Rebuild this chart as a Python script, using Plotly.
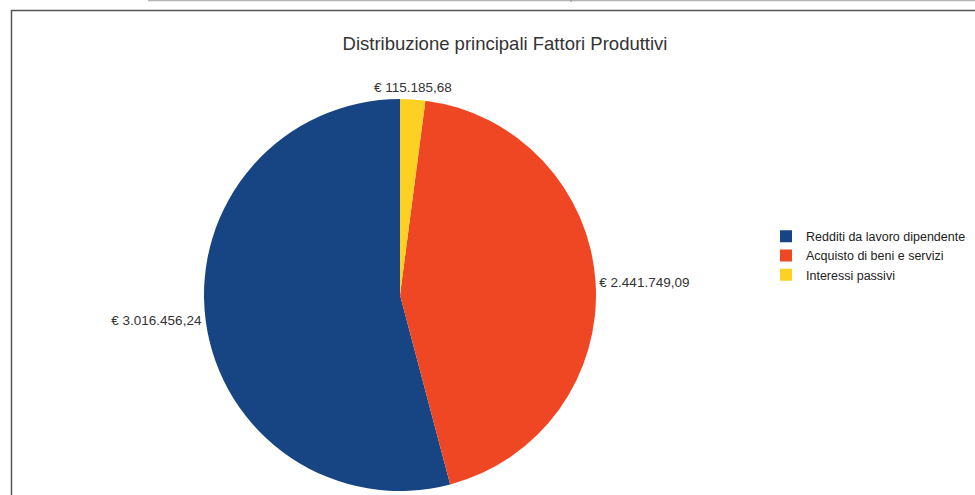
import math
import plotly.graph_objects as go

# Data
categories = ["Redditi da lavoro dipendente", "Acquisto di beni e servizi", "Interessi passivi"]
values = [3016456.24, 2441749.09, 115185.68]
colors = ["#174583", "#ef4724", "#fdd124"]
title_text = "Distribuzione principali Fattori Produttivi"

W, H = 975, 495
cx, cy, r = 400, 295, 196  # pixel geometry of the pie (from top-left)

FONT = "Liberation Sans, Arial, sans-serif"


def euro_it(v):
    s = f"{v:,.2f}".replace(",", "X").replace(".", ",").replace("X", ".")
    return "€ " + s


total = sum(values)
# plotly's ccw mode puts the first slice clockwise of the rotation angle,
# so rotate by the remaining share of the circle (first slice then starts at 12 o'clock going ccw).
rot = 360.0 * (1 - values[0] / total)

# the small top slice's label is centred above it (as in the reference)
tmpl = ["€ %{value:,.2f}", "€ %{value:,.2f}", ""]

fig = go.Figure(go.Pie(
    labels=categories,
    values=values,
    sort=False,
    direction="counterclockwise",
    rotation=rot,
    marker=dict(colors=colors, line=dict(width=0)),
    textposition="outside",
    texttemplate=tmpl,
    textfont=dict(family=FONT, size=13.5, color="#333333"),
    hoverinfo="label+value+percent",
    domain=dict(x=[(cx - r) / W, (cx + r) / W], y=[(H - cy - r) / H, (H - cy + r) / H]),
    showlegend=True,
))

# yellow slice: mid-angle measured clockwise from 12 o'clock
mid = math.radians(360.0 * (values[2] / 2) / total)
lr = r + 12
ax_px = cx + lr * math.sin(mid)
ay_px = cy - lr * math.cos(mid)

annotations = [
    dict(text=euro_it(values[2]), xref="paper", yref="paper", x=ax_px / W, y=1 - ay_px / H,
         xanchor="center", yanchor="middle", showarrow=False,
         font=dict(family=FONT, size=13.5, color="#333333")),
]

shapes = [
    # light top rule of page
    dict(type="line", xref="paper", yref="paper", x0=148 / W, x1=1, y0=1 - 0.5 / H, y1=1 - 0.5 / H,
         line=dict(color="#b4b4b4", width=1.5)),
    dict(type="line", xref="paper", yref="paper", x0=571 / W, x1=571 / W, y0=1, y1=1 - 2 / H,
         line=dict(color="#888888", width=1)),
    # chart frame
    dict(type="line", xref="paper", yref="paper", x0=11 / W, x1=1, y0=1 - 10.5 / H, y1=1 - 10.5 / H,
         line=dict(color="#555555", width=1.5)),
    dict(type="line", xref="paper", yref="paper", x0=11.5 / W, x1=11.5 / W, y0=0, y1=1 - 10 / H,
         line=dict(color="#555555", width=1.5)),
]

fig.update_layout(
    width=W, height=H,
    margin=dict(l=0, r=0, t=0, b=0),
    paper_bgcolor="white",
    plot_bgcolor="white",
    separators=",.",
    font=dict(family=FONT, color="#333333"),
    title=dict(text=title_text, x=505 / W, y=1 - 44 / H, xanchor="center", yanchor="middle",
               font=dict(family=FONT, size=18.5, color="#333333")),
    legend=dict(x=766 / W, y=1 - 221.5 / H, xanchor="left", yanchor="top",
                font=dict(family=FONT, size=12.5, color="#222222"),
                bgcolor="rgba(0,0,0,0)", tracegroupgap=0, itemwidth=30),
    shapes=shapes,
    annotations=annotations,
)

fig.write_html("out.html", config={"displayModeBar": False},
               post_script="document.body.style.margin='0';")
